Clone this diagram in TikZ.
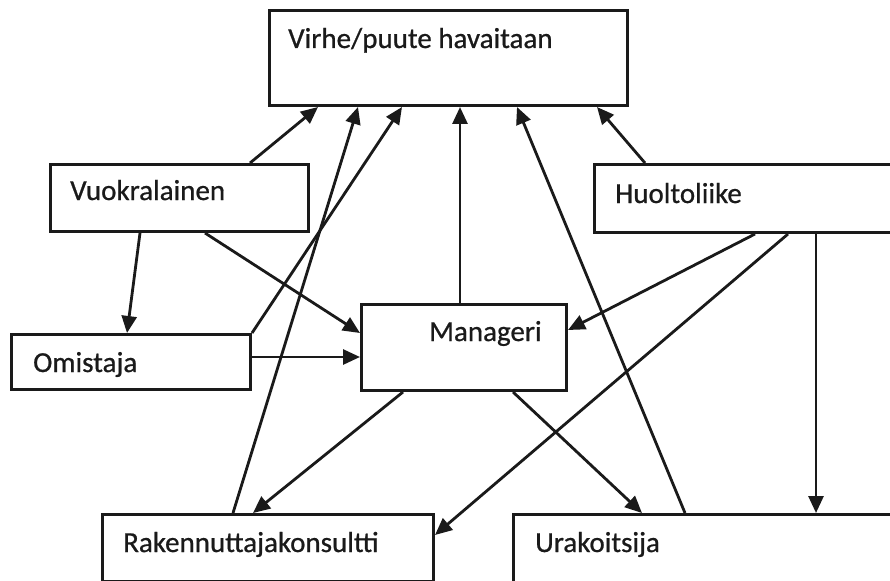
\documentclass[tikz,border=0pt]{standalone}
\usepackage{fontspec}
\setmainfont{Carlito}
\newfontfamily\lblfont{Carlito}[FakeBold=0.7]
\usetikzlibrary{arrows.meta,calc}
\definecolor{ink}{HTML}{1A1A1A}
\begin{document}
\begin{tikzpicture}[x=1pt,y=-1pt,
  box/.style={draw=ink,line width=3pt,anchor=north west,inner sep=0pt,rectangle},
  lbl/.style={anchor=base west,inner sep=0pt,text=ink,font=\lblfont\fontsize{29}{33}\selectfont},
  conn/.style={draw=ink,line width=2.8pt,-{Triangle[length=17pt,width=15pt]}}]
\path[use as bounding box,clip] (0,0) rectangle (890,580);
\fill[white] (0,0) rectangle (890,580);

% boxes
\node[box,minimum width=358pt,minimum height=95pt] (top) at (268,9) {};
\node[box,minimum width=258pt,minimum height=67pt] (vuok) at (49,163) {};
\node[box,minimum width=400pt,minimum height=68pt] (huol) at (593,163) {};
\node[box,minimum width=239pt,minimum height=55pt] (omis) at (10,333) {};
\node[box,minimum width=205pt,minimum height=86pt] (mana) at (360,303) {};
\node[box,minimum width=331pt,minimum height=67pt] (rake) at (101,513) {};
\node[box,minimum width=450pt,minimum height=70pt] (urak) at (512,513) {};

% labels
\node[lbl] (topT) at (288,48) {Virhe/puute havaitaan};
\node[lbl] (vuokT) at (70,200) {Vuokralainen};
\node[lbl] (huolT) at (615,203) {Huoltoliike};
\node[lbl] (omisT) at (33,372) {Omistaja};
\node[lbl] (manaT) at (429,341) {Manageri};
\node[lbl] (rakeT) at (123,552) {Rakennuttajakonsultti};
\node[lbl] (urakT) at (535,552) {Urakoitsija};

% connectors into the top box
\draw[conn] ($(vuok.north west)+(201,0)$) -- ($(top.south west)+(50,0)$);
\draw[conn] ($(rake.north west)+(132,0)$) -- ($(top.south west)+(90,0)$);
\draw[conn] (omis.north east) -- ($(top.south west)+(134,0)$);
\draw[conn] ($(mana.north west)+(100,0)$) -- ($(top.south west)+(192,0)$);
\draw[conn] ($(urak.north west)+(173,0)$) -- ($(top.south west)+(249,0)$);
\draw[conn] ($(huol.north west)+(52,0)$) -- ($(top.south west)+(329,0)$);

% remaining connectors
\draw[conn] ($(vuok.south west)+(156,0)$) -- ($(mana.north west)+(0,30)$);
\draw[conn] ($(vuok.south west)+(91,0)$) -- ($(omis.north west)+(117,0)$);
\draw[conn] ($(omis.north east)+(0,24)$) -- ($(mana.north west)+(0,54)$);
\draw[conn] ($(huol.south west)+(162,0)$) -- ($(mana.north east)+(0,27)$);
\draw[conn] ($(huol.south west)+(195,0)$) -- ($(rake.north east)+(0,22)$);
\draw[conn] ($(huol.south west)+(223,0)$) -- ($(urak.north west)+(304,0)$);
\draw[conn] ($(mana.south west)+(43,0)$) -- ($(rake.north west)+(152,0)$);
\draw[conn] ($(mana.south west)+(153,0)$) -- ($(urak.north west)+(130,0)$);
\end{tikzpicture}
\end{document}
